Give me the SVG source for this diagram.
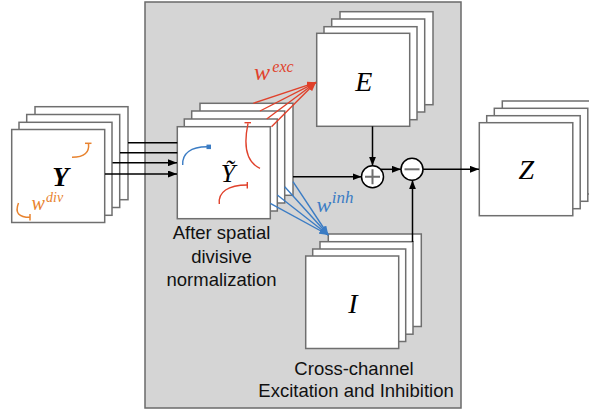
<svg xmlns="http://www.w3.org/2000/svg" width="589" height="410" viewBox="0 0 589 410">
  <style>
    .sheet { fill: #ffffff; stroke: #6f6f6f; stroke-width: 1.5; }
    .panel { fill: #d5d5d5; stroke: #6a6a6a; stroke-width: 1.5; }
    .wire { fill: none; stroke: #000000; stroke-width: 1.5; }
    .exc { fill: none; stroke: #e0412b; stroke-width: 1.4; }
    .inh { fill: none; stroke: #3b7cc4; stroke-width: 1.4; }
    .div { fill: none; stroke: #e8832f; stroke-width: 1.5; }
    .op { fill: #ffffff; stroke: #000000; stroke-width: 1.5; }
    .opsign { stroke: #6f6f6f; stroke-width: 2; }
    .math { font-family: "Liberation Serif", "DejaVu Serif", serif; font-style: italic; fill: #000000; }
    .caption { font-family: "Liberation Sans", Arial, sans-serif; font-size: 18.5px; fill: #111111; text-anchor: middle; }
  </style>
  <defs>
    <marker id="arrowBlack" markerUnits="userSpaceOnUse" markerWidth="9" markerHeight="7" refX="9" refY="3.5" orient="auto">
      <path d="M0,0 L9,3.5 L0,7 z" fill="#000000"/>
    </marker>
    <marker id="arrowRed" markerUnits="userSpaceOnUse" markerWidth="9" markerHeight="7" refX="9" refY="3.5" orient="auto">
      <path d="M0,0 L9,3.5 L0,7 z" fill="#e0412b"/>
    </marker>
    <marker id="arrowBlue" markerUnits="userSpaceOnUse" markerWidth="9" markerHeight="7" refX="9" refY="3.5" orient="auto">
      <path d="M0,0 L9,3.5 L0,7 z" fill="#3b7cc4"/>
    </marker>
  </defs>

  <!-- shaded panel around the excitation / inhibition stage -->
  <rect class="panel" x="145" y="2" width="316" height="406"/>

  <!-- input feature maps Y -->
  <g id="node-Y">
    <rect class="sheet" x="35" y="106.7" width="93" height="93"/>
    <rect class="sheet" x="26.7" y="114.5" width="93" height="93"/>
    <rect class="sheet" x="19" y="122.3" width="93" height="93"/>
    <rect class="sheet" x="11.7" y="129.5" width="93" height="93"/>
    <path class="div" d="M88.5,143.3 C89.5,152 85,157.3 72,157.3"/>
    <path class="div" d="M85,143.3 H91.5"/>
    <path class="div" d="M18.5,203 C14.5,213 19,217.3 30,217.3"/>
    <path class="div" d="M30,214 V220.5"/>
    <text class="math" x="60.5" y="186" font-size="27" font-weight="bold" text-anchor="middle">Y</text>
    <text class="math" x="31.5" y="210" font-size="20" fill="#e8832f" style="fill:#e8832f">w</text>
    <text class="math" x="46" y="202.3" font-size="14" style="fill:#e8832f">div</text>
  </g>

  <!-- normalized maps Ỹ -->
  <g id="node-Ytilde">
    <rect class="sheet" x="200" y="103.3" width="93" height="92"/>
    <rect class="sheet" x="191.7" y="111" width="93" height="92"/>
    <rect class="sheet" x="184.3" y="119" width="93" height="92"/>
    <rect class="sheet" x="177.3" y="126.7" width="93" height="92"/>
    <path class="inh" d="M182.7,165 C182,153 191,147 207,146.8"/>
    <rect x="206.5" y="144.6" width="4.5" height="4.5" fill="#3b7cc4"/>
    <path class="exc" d="M248,123.3 C243.5,145 246,162 260,168.3"/>
    <path class="exc" d="M244.5,122.7 H251"/>
    <path class="exc" d="M219.3,204 C218,192 228,185 247.3,185"/>
    <path class="exc" d="M247.3,182 V188.5"/>
    <text class="math" x="228" y="181.7" font-size="26" text-anchor="middle">Ỹ</text>
  </g>

  <!-- excitation maps E -->
  <g id="node-E">
    <rect class="sheet" x="340" y="11.7" width="93" height="93"/>
    <rect class="sheet" x="331.7" y="19" width="93" height="93"/>
    <rect class="sheet" x="324" y="26.7" width="93" height="93"/>
    <rect class="sheet" x="316.7" y="33.3" width="93" height="93"/>
    <text class="math" x="363.7" y="90.7" font-size="28" text-anchor="middle">E</text>
  </g>

  <!-- inhibition maps I -->
  <g id="node-I">
    <rect class="sheet" x="328.3" y="234" width="93" height="92.5"/>
    <rect class="sheet" x="320" y="241.7" width="93" height="92.5"/>
    <rect class="sheet" x="312.7" y="249" width="93" height="92.5"/>
    <rect class="sheet" x="305.7" y="256" width="93" height="92.5"/>
    <text class="math" x="353" y="313.3" font-size="28" text-anchor="middle">I</text>
  </g>

  <!-- output maps Z -->
  <g id="node-Z">
    <rect class="sheet" x="502.3" y="101" width="93.5" height="93"/>
    <rect class="sheet" x="494.3" y="108.3" width="93.5" height="93"/>
    <rect class="sheet" x="486.7" y="115.7" width="93.5" height="93"/>
    <rect class="sheet" x="479.3" y="122.7" width="93.5" height="93"/>
    <text class="math" x="526.3" y="179.3" font-size="28" text-anchor="middle">Z</text>
  </g>

  <!-- summation and subtraction operators -->
  <g id="node-plus">
    <circle class="op" cx="372.5" cy="176.7" r="11"/>
    <path class="opsign" d="M365,176.7 H380 M372.5,169.2 V184.2"/>
  </g>
  <g id="node-minus">
    <circle class="op" cx="412" cy="169.3" r="11"/>
    <path class="opsign" d="M404.5,169.3 H419.5"/>
  </g>

  <!-- connectors -->
  <g id="connectors">
    <line class="wire" x1="128" y1="142.7" x2="177.3" y2="142.7"/>
    <line class="wire" x1="120" y1="152.7" x2="177.3" y2="152.7"/>
    <line class="wire" x1="112.5" y1="162.7" x2="177" y2="162.7" marker-end="url(#arrowBlack)"/>
    <line class="wire" x1="105" y1="174" x2="177" y2="174" marker-end="url(#arrowBlack)"/>

    <line class="exc" x1="253.3" y1="103.3" x2="316" y2="82.3" marker-end="url(#arrowRed)"/>
    <line class="exc" x1="260" y1="111" x2="316" y2="82.3" marker-end="url(#arrowRed)"/>
    <line class="exc" x1="266.7" y1="119" x2="316" y2="82.3" marker-end="url(#arrowRed)"/>
    <line class="exc" x1="271.5" y1="126.7" x2="316" y2="82.3" marker-end="url(#arrowRed)"/>

    <line class="inh" x1="270.3" y1="203.3" x2="328.3" y2="235" marker-end="url(#arrowBlue)"/>
    <line class="inh" x1="277.3" y1="195" x2="328.3" y2="235" marker-end="url(#arrowBlue)"/>
    <line class="inh" x1="284.7" y1="186.7" x2="328.3" y2="235" marker-end="url(#arrowBlue)"/>
    <line class="inh" x1="293" y1="181.7" x2="328.3" y2="235" marker-end="url(#arrowBlue)"/>

    <line class="wire" x1="293" y1="176.7" x2="361.5" y2="176.7" marker-end="url(#arrowBlack)"/>
    <line class="wire" x1="372.5" y1="126.3" x2="372.5" y2="165.7" marker-end="url(#arrowBlack)"/>
    <line class="wire" x1="381" y1="169.3" x2="401" y2="169.3" marker-end="url(#arrowBlack)"/>
    <line class="wire" x1="412.5" y1="242" x2="412.5" y2="180.3" marker-end="url(#arrowBlack)"/>
    <line class="wire" x1="423" y1="169.3" x2="479" y2="169.3" marker-end="url(#arrowBlack)"/>
  </g>

  <!-- weight labels -->
  <g id="weight-labels">
    <text class="math" x="254" y="80" font-size="24" style="fill:#e0412b">w</text>
    <text class="math" x="272.3" y="71.7" font-size="16" style="fill:#e0412b">exc</text>
    <text class="math" x="316.5" y="211.7" font-size="22" style="fill:#3b7cc4">w</text>
    <text class="math" x="331.7" y="203" font-size="17" style="fill:#3b7cc4">inh</text>
  </g>

  <!-- captions -->
  <g id="captions">
    <text class="caption" x="221.5" y="239.3">After spatial</text>
    <text class="caption" x="221.5" y="262.5">divisive</text>
    <text class="caption" x="221.5" y="285.5">normalization</text>
    <text class="caption" x="354" y="375">Cross-channel</text>
    <text class="caption" x="356" y="397">Excitation and Inhibition</text>
  </g>
</svg>
